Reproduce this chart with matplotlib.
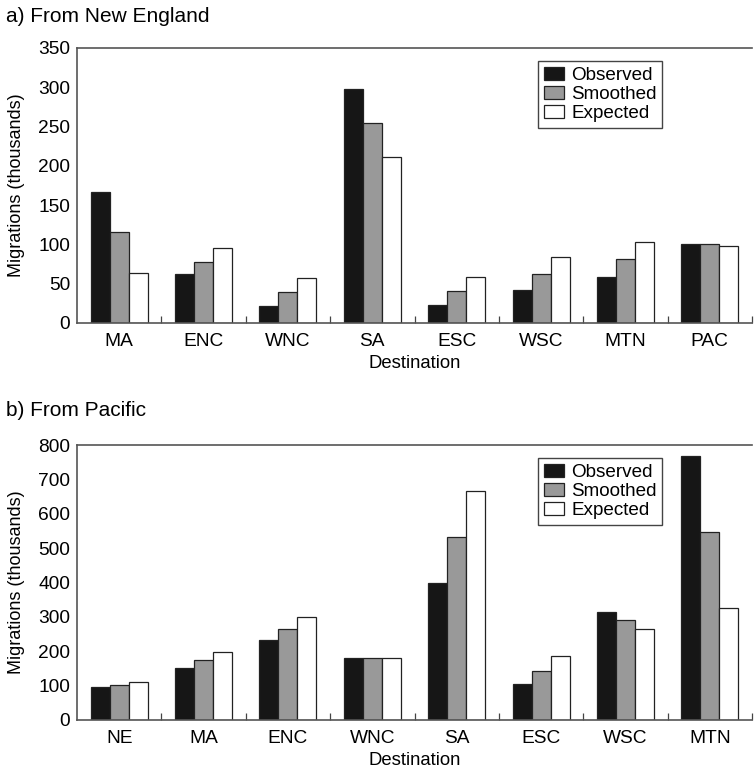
import matplotlib.pyplot as plt
import numpy as np

plt.rcParams['font.family'] = ['Liberation Sans', 'DejaVu Sans']

# a) out-migration from New England
ne_dest = ['MA', 'ENC', 'WNC', 'SA', 'ESC', 'WSC', 'MTN', 'PAC']
ne_observed = [167, 62, 22, 298, 23, 42, 59, 100]
ne_smoothed = [116, 77, 39, 255, 41, 62, 81, 100]
ne_expected = [63, 95, 57, 211, 59, 84, 103, 98]

# b) out-migration from the Pacific
pac_dest = ['NE', 'MA', 'ENC', 'WNC', 'SA', 'ESC', 'WSC', 'MTN']
pac_observed = [95, 152, 233, 179, 400, 104, 314, 768]
pac_smoothed = [103, 175, 265, 179, 531, 143, 290, 548]
pac_expected = [110, 199, 301, 179, 665, 187, 265, 325]

series_names = ['Observed', 'Smoothed', 'Expected']
series_colors = ['#161616', '#999999', '#ffffff']


def BarPanel(ax, cats, series, ymax, ystep):
    x = np.arange(len(cats))
    w = 0.225
    for i, (vals, name, col) in enumerate(zip(series, series_names, series_colors)):
        ax.bar(x + (i - 1) * w, vals, w, color=col, edgecolor='#222222',
               linewidth=0.9, label=name, zorder=2)
    ax.set_xlim(-0.5, len(cats) - 0.5)
    ax.set_ylim(0, ymax)
    ax.set_yticks(np.arange(0, ymax + 1, ystep))
    ax.set_xticks(x)
    ax.set_xticklabels(cats)
    ax.set_xticks(np.arange(0.5, len(cats), 1.0), minor=True)
    ax.tick_params(axis='x', which='major', length=0, pad=7, labelsize=13.8)
    ax.tick_params(axis='x', which='minor', direction='in', length=5,
                   width=0.9, color='#444444')
    ax.tick_params(axis='y', length=0, pad=5, labelsize=13.8)
    for side in ['left', 'bottom', 'top']:
        ax.spines[side].set_color('#555555')
        ax.spines[side].set_linewidth(1.2)
    ax.spines['right'].set_visible(False)
    ax.set_xlabel('Destination', fontsize=13.3, labelpad=4)
    ax.set_ylabel('Migrations (thousands)', fontsize=13, labelpad=4)
    ax.yaxis.set_label_coords(-0.077, 0.5)
    leg = ax.legend(loc='upper left', bbox_to_anchor=(0.683, 0.952),
                    fontsize=13.6, fancybox=False, framealpha=1,
                    edgecolor='#444444', borderpad=0.3, labelspacing=0.1,
                    handlelength=1.1, handleheight=0.7, handletextpad=0.35,
                    borderaxespad=0)
    leg.get_frame().set_linewidth(1.0)


fig = plt.figure(figsize=(7.54, 7.72), dpi=100)
ax1 = fig.add_axes([77 / 754, 1 - 323 / 772, 675 / 754, 275 / 772])
ax2 = fig.add_axes([77 / 754, 1 - 720 / 772, 675 / 754, 275 / 772])

BarPanel(ax1, ne_dest, [ne_observed, ne_smoothed, ne_expected], 350, 50)
BarPanel(ax2, pac_dest, [pac_observed, pac_smoothed, pac_expected], 800, 100)

fig.text(6 / 754, 1 - 16 / 772, 'a) From New England', fontsize=15,
         ha='left', va='center')
fig.text(6 / 754, 1 - 411 / 772, 'b) From Pacific', fontsize=15,
         ha='left', va='center')

fig.savefig('out.png', dpi=100)
